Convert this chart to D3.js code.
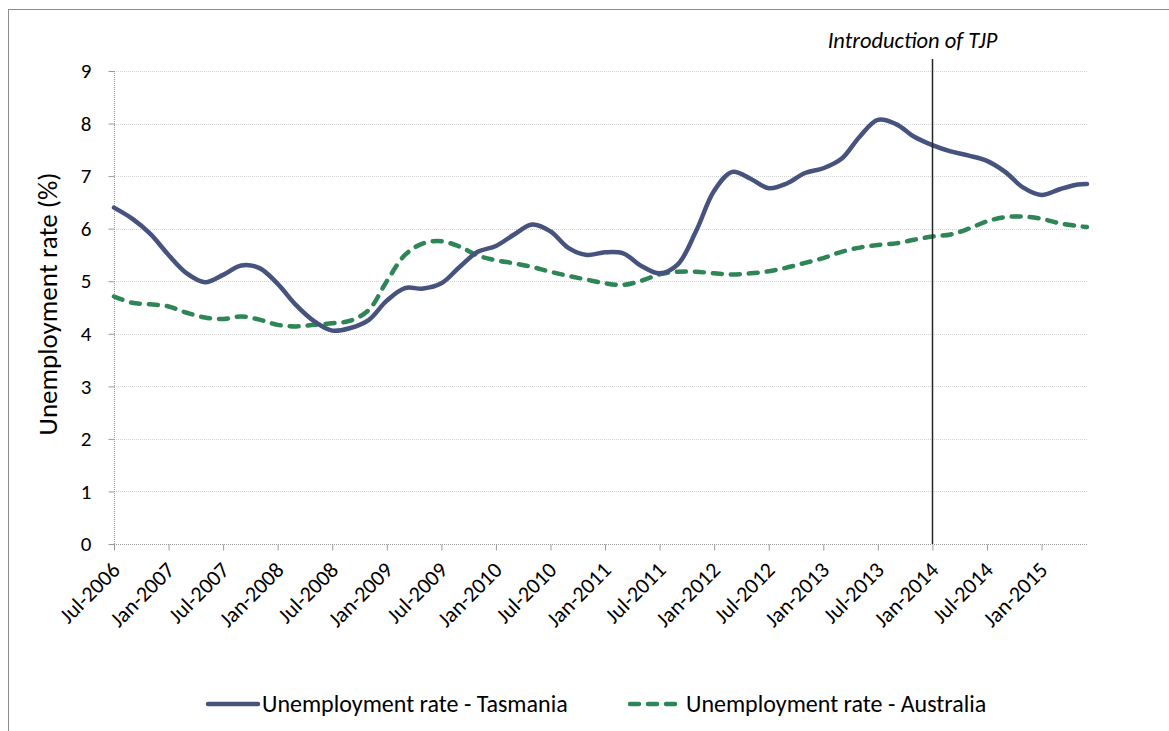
<!DOCTYPE html>
<html>
<head>
<meta charset="utf-8">
<script src="https://cdn.jsdelivr.net/npm/d3@7"></script>
<style>
  html, body { margin: 0; padding: 0; background: #fff; }
  svg { display: block; font-family: Carlito, Calibri, "Open Sans", sans-serif; }
</style>
</head>
<body>
<svg id="chart" width="1169" height="731"></svg>
<script>
// Sample months (every second month of the monthly trend series)
const months = [
  "2006-07","2006-09","2006-11","2007-01","2007-03","2007-05","2007-07","2007-09","2007-11",
  "2008-01","2008-03","2008-05","2008-07","2008-09","2008-11","2009-01","2009-03","2009-05",
  "2009-07","2009-09","2009-11","2010-01","2010-03","2010-05","2010-07","2010-09","2010-11",
  "2011-01","2011-03","2011-05","2011-07","2011-09","2011-11","2012-01","2012-03","2012-05",
  "2012-07","2012-09","2012-11","2013-01","2013-03","2013-05","2013-07","2013-09","2013-11",
  "2014-01","2014-03","2014-05","2014-07","2014-09","2014-11","2015-01","2015-03","2015-05","2015-06"
];

// Unemployment rate (%), Tasmania
const tasmania = [
  6.40, 6.19, 5.90, 5.50, 5.15, 4.98, 5.12, 5.30, 5.25,
  4.95, 4.55, 4.24, 4.06, 4.11, 4.26, 4.63, 4.87, 4.86,
  4.96, 5.27, 5.56, 5.67, 5.89, 6.08, 5.95, 5.63, 5.50,
  5.55, 5.53, 5.29, 5.15, 5.32, 5.95, 6.72, 7.08, 6.95,
  6.77, 6.86, 7.06, 7.15, 7.33, 7.75, 8.07, 7.99, 7.75,
  7.59, 7.47, 7.39, 7.29, 7.08, 6.78, 6.64, 6.75, 6.84, 6.85
];

// Unemployment rate (%), Australia
const australia = [
  4.71, 4.59, 4.56, 4.52, 4.40, 4.31, 4.28, 4.33, 4.27,
  4.17, 4.14, 4.17, 4.20, 4.25, 4.45, 5.00, 5.50, 5.72,
  5.76, 5.66, 5.49, 5.40, 5.34, 5.27, 5.18, 5.10, 5.03,
  4.96, 4.93, 5.01, 5.13, 5.18, 5.18, 5.15, 5.13, 5.15,
  5.19, 5.26, 5.35, 5.44, 5.56, 5.64, 5.69, 5.72, 5.79,
  5.85, 5.89, 6.00, 6.14, 6.22, 6.23, 6.19, 6.10, 6.05, 6.03
];

const tickLabels = [
  "Jul-2006","Jan-2007","Jul-2007","Jan-2008","Jul-2008","Jan-2009","Jul-2009","Jan-2010",
  "Jul-2010","Jan-2011","Jul-2011","Jan-2012","Jul-2012","Jan-2013","Jul-2013","Jan-2014",
  "Jul-2014","Jan-2015"
];
const yTicks = [0, 1, 2, 3, 4, 5, 6, 7, 8, 9];
const firstMonth = "2006-07";
const lastMonth = "2015-06";
const eventMonth = "Jan-2014";
const eventLabel = "Introduction of TJP";
const yTitle = "Unemployment rate (%)";
const seriesNames = ["Unemployment rate - Tasmania", "Unemployment rate - Australia"];

// Monthly category axis: convert dates to a month index
const parseYM = d3.timeParse("%Y-%m");
const parseLabel = d3.timeParse("%b-%Y");
const base = parseYM(firstMonth);
const monthIndex = dt => d3.timeMonth.count(base, dt);

const svg = d3.select("#chart");
const plot = { left: 114, right: 1087, top: 71, bottom: 544 };

const x = d3.scaleLinear()
  .domain([0, monthIndex(parseYM(lastMonth))])
  .range([plot.left, plot.right]);
const y = d3.scaleLinear().domain([0, 9]).range([plot.bottom, plot.top]);

// Outer chart frame
svg.append("rect")
  .attr("x", 8.5).attr("y", 9.5).attr("width", 1175).attr("height", 740)
  .attr("fill", "none").attr("stroke", "#8c8c8c").attr("stroke-width", 1);

// Horizontal gridlines
svg.append("g").selectAll("line").data(yTicks.filter(t => t > 0)).join("line")
  .attr("x1", plot.left).attr("x2", plot.right)
  .attr("y1", d => Math.round(y(d)) + 0.5).attr("y2", d => Math.round(y(d)) + 0.5)
  .attr("stroke", "#d4d4d4").attr("stroke-width", 1).attr("stroke-dasharray", "1,1");

// Y axis
const yAxis = svg.append("g")
  .attr("transform", `translate(${plot.left + 0.5},0)`)
  .call(d3.axisLeft(y).tickValues(yTicks).tickSize(6).tickPadding(17).tickFormat(d3.format("d")));
yAxis.select(".domain").attr("stroke", "#9a9a9a").attr("stroke-dasharray", "1,1")
  .attr("d", `M0,${plot.top}V${plot.bottom + 6}`);
yAxis.selectAll(".tick line").attr("stroke", "#9a9a9a");
yAxis.selectAll(".tick text").attr("font-size", 21).attr("fill", "#000")
  .attr("font-family", "Carlito, Calibri, 'Open Sans', sans-serif");

// X axis
const xTickPos = tickLabels.map(l => monthIndex(parseLabel(l)));
const xAxis = svg.append("g")
  .attr("transform", `translate(0,${plot.bottom + 0.5})`)
  .call(d3.axisBottom(x).tickValues(xTickPos).tickSize(6).tickFormat(""));
xAxis.select(".domain").attr("stroke", "#9a9a9a").attr("stroke-dasharray", "1,1")
  .attr("d", `M${plot.left},0H${plot.right}`);
xAxis.selectAll(".tick line").attr("stroke", "#9a9a9a");

svg.append("g").selectAll("text").data(tickLabels).join("text")
  .attr("transform", (d, i) => `translate(${x(xTickPos[i]) + 2},${plot.bottom + 22}) rotate(-45)`)
  .attr("text-anchor", "end")
  .attr("dy", "0.35em")
  .attr("font-size", 22)
  .attr("fill", "#000")
  .text(d => d);

// Y axis title
svg.append("text")
  .attr("transform", `translate(57,304) rotate(-90)`)
  .attr("text-anchor", "middle")
  .attr("font-size", 27)
  .attr("fill", "#000")
  .text(yTitle);

// Series lines
const pts = vals => months.map((m, i) => ({ i: monthIndex(parseYM(m)), v: vals[i] }));
const line = d3.line()
  .x(d => x(d.i)).y(d => y(d.v))
  .curve(d3.curveCatmullRom.alpha(0.5));

svg.append("path").datum(pts(australia))
  .attr("d", line).attr("fill", "none")
  .attr("stroke", "#2e8656").attr("stroke-width", 4.5)
  .attr("stroke-linecap", "round").attr("stroke-dasharray", "9,9");

svg.append("path").datum(pts(tasmania))
  .attr("d", line).attr("fill", "none")
  .attr("stroke", "#45537e").attr("stroke-width", 4.5)
  .attr("stroke-linecap", "round");

// Event marker
const ex = Math.round(x(monthIndex(parseLabel(eventMonth)))) + 0.5;
svg.append("line")
  .attr("x1", ex).attr("x2", ex).attr("y1", 59).attr("y2", plot.bottom)
  .attr("stroke", "#262626").attr("stroke-width", 1.5);
svg.append("text")
  .attr("x", ex - 20).attr("y", 48)
  .attr("text-anchor", "middle")
  .attr("font-size", 22.5).attr("font-style", "italic").attr("fill", "#000")
  .text(eventLabel);

// Legend
const legend = svg.append("g");
legend.append("line")
  .attr("x1", 208).attr("x2", 258).attr("y1", 704).attr("y2", 704)
  .attr("stroke", "#45537e").attr("stroke-width", 4.5).attr("stroke-linecap", "round");
legend.append("text")
  .attr("x", 262).attr("y", 704).attr("dy", "0.35em")
  .attr("font-size", 24).attr("fill", "#000")
  .text(seriesNames[0]);
legend.append("line")
  .attr("x1", 630).attr("x2", 680).attr("y1", 704).attr("y2", 704)
  .attr("stroke", "#2e8656").attr("stroke-width", 4.5).attr("stroke-linecap", "round")
  .attr("stroke-dasharray", "9,9");
legend.append("text")
  .attr("x", 686).attr("y", 704).attr("dy", "0.35em")
  .attr("font-size", 24).attr("fill", "#000")
  .text(seriesNames[1]);
</script>
</body>
</html>
